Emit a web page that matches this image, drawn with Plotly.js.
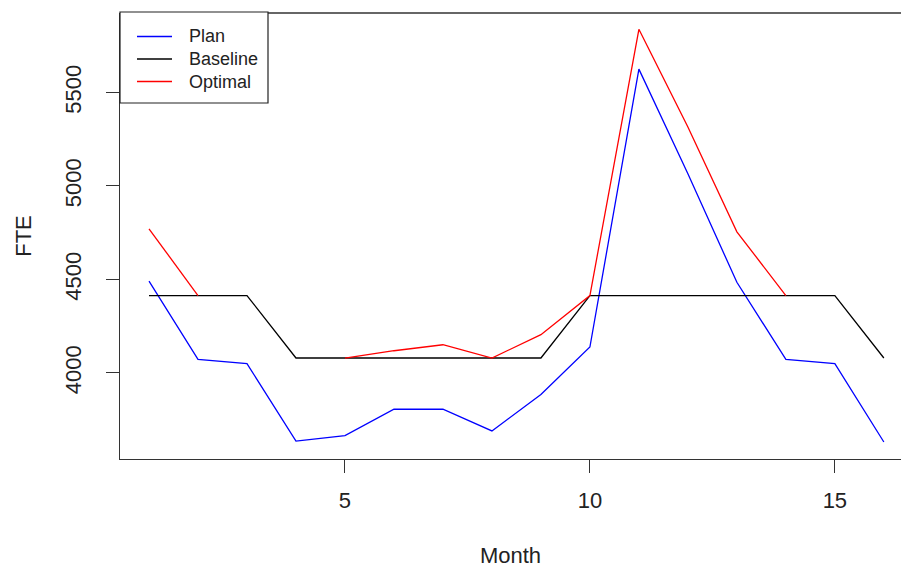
<!DOCTYPE html>
<html>
<head>
<meta charset="utf-8">
<script src="https://cdn.plot.ly/plotly-3.0.1.min.js"></script>
<style>
html, body { margin: 0; padding: 0; background: #fff; overflow: hidden; }
#chart { width: 901px; height: 568px; }
</style>
</head>
<body>
<div id="chart"></div>
<script>
const months = [1, 2, 3, 4, 5, 6, 7, 8, 9, 10, 11, 12, 13, 14, 15, 16];
const plan = [4491, 4073, 4050, 3636, 3665, 3806, 3806, 3690, 3885, 4139, 5625, 5065, 4485, 4073, 4050, 3631];
const baseline = [4414, 4414, 4414, 4080, 4080, 4080, 4080, 4080, 4080, 4414, 4414, 4414, 4414, 4414, 4414, 4080];
const optimal = [4771, 4414, null, null, 4080, 4119, 4151, 4080, 4205, 4414, 5838, 5315, 4755, 4414, null, null];
const seriesNames = ["Plan", "Baseline", "Optimal"];
const xTicks = [5, 10, 15];
const yTicks = [4000, 4500, 5000, 5500];

const font = "Liberation Sans, Arial, sans-serif";
const colors = ["#0000FF", "#000000", "#FF0000"];
const data = [plan, baseline, optimal].map((ys, i) => ({
  type: "scatter",
  mode: "lines",
  x: months,
  y: ys,
  name: seriesNames[i],
  connectgaps: false,
  line: { color: colors[i], width: 1.3 },
  hoverinfo: "skip",
  showlegend: false
}));

// Plot area in pixels (for the R-style legend box placement)
const W = 781, H = 446;
const px = v => v / W;          // pixels from plot left -> paper x
const py = v => 1 - v / H;      // pixels from plot top  -> paper y

const shapes = [
  { type: "line", xref: "paper", yref: "paper", x0: 0, x1: 1, y0: 1, y1: 1,
    line: { color: "#333", width: 1.3 } },
  { type: "rect", xref: "paper", yref: "paper", layer: "above",
    x0: px(0), x1: px(148), y0: py(90), y1: py(-1),
    fillcolor: "#fff", line: { color: "#222", width: 1.2 } }
];
const annotations = [];
const rowY = [23.5, 46, 68.5];
seriesNames.forEach((name, i) => {
  shapes.push({ type: "line", xref: "paper", yref: "paper", layer: "above",
    x0: px(17), x1: px(52), y0: py(rowY[i]), y1: py(rowY[i]),
    line: { color: colors[i], width: 1.3 } });
  annotations.push({ xref: "paper", yref: "paper", x: px(67), y: py(rowY[i]),
    xanchor: "left", yanchor: "middle", showarrow: false, text: name,
    font: { family: font, size: 18, color: "#222" } });
});

const layout = {
  width: 901,
  height: 568,
  margin: { l: 120, r: 0, t: 13, b: 109 },
  paper_bgcolor: "#fff",
  plot_bgcolor: "#fff",
  font: { family: font, color: "#222", size: 22 },
  showlegend: false,
  xaxis: {
    range: [0.408, 16.35],
    tickvals: xTicks,
    ticktext: xTicks.map(String),
    ticks: "outside",
    ticklen: 13,
    tickwidth: 1,
    tickcolor: "#333",
    showgrid: false,
    zeroline: false,
    showline: true,
    linecolor: "#333",
    linewidth: 1.3,
    ticklabelstandoff: 8,
    title: { text: "Month", standoff: 41, font: { size: 22 } }
  },
  yaxis: {
    range: [3540, 5925],
    tickvals: yTicks,
    ticktext: yTicks.map(String),
    tickangle: -90,
    ticks: "outside",
    ticklen: 13,
    tickwidth: 1,
    tickcolor: "#333",
    showgrid: false,
    zeroline: false,
    showline: true,
    linecolor: "#333",
    linewidth: 1.3,
    ticklabelstandoff: 16,
    title: { text: "FTE", standoff: 23, font: { size: 22 } }
  },
  shapes: shapes,
  annotations: annotations
};

Plotly.newPlot("chart", data, layout, { displayModeBar: false, staticPlot: true });
</script>
</body>
</html>
